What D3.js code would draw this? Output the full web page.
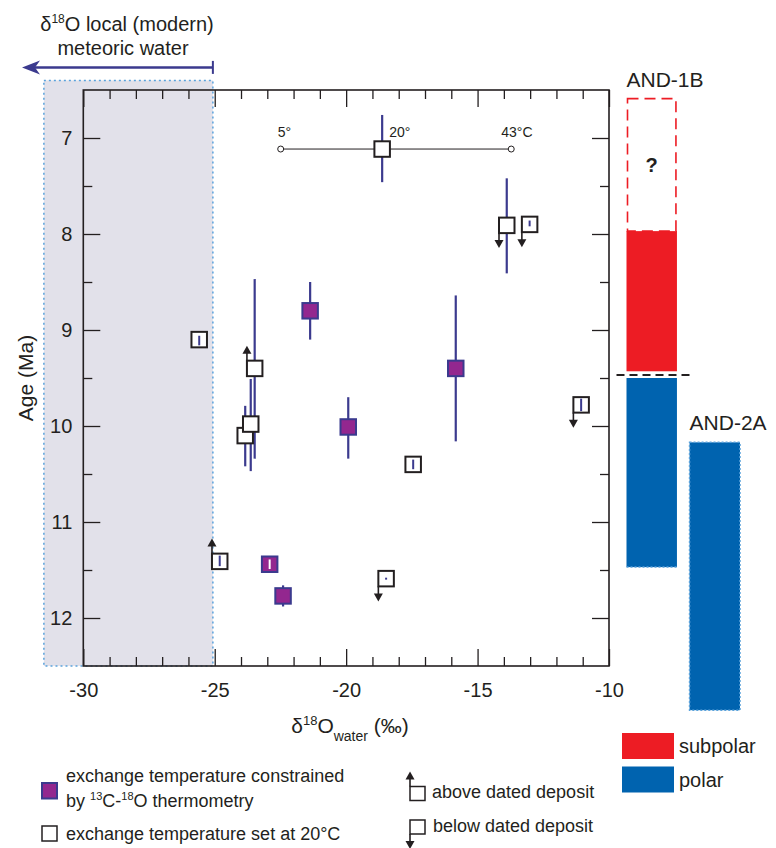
<!DOCTYPE html>
<html>
<head>
<meta charset="utf-8">
<script src="https://cdn.jsdelivr.net/npm/d3@7"></script>
<style>
  body { margin: 0; background: #fff; }
  text { font-family: "Liberation Sans", Arial, sans-serif; fill: #231f20; }
</style>
</head>
<body>
<script>
// samples, in draw order (later ones sit on top)
var d18O   = [-13.89, -13.02, -21.37, -25.59, -23.48, -23.84, -23.63, -19.92, -15.83, -17.45, -11.06, -24.81, -22.91, -22.40, -18.48];
var ages   = [7.91, 7.90, 8.80, 9.10, 9.40, 10.10, 9.98, 10.01, 9.40, 10.40, 9.78, 11.41, 11.44, 11.77, 11.59];
var ageMin = [7.42, 7.86, 8.50, 9.06, 8.47, 9.79, 9.51, 9.70, 8.64, 10.35, 9.70, 11.35, 11.39, 11.66, 11.58];
var ageMax = [8.41, 7.92, 9.10, 9.16, 10.34, 10.42, 10.47, 10.34, 10.16, 10.45, 9.86, 11.46, 11.49, 11.88, 11.59];
var method = ['set', 'set', 'clumped', 'set', 'set', 'set', 'set', 'clumped', 'clumped', 'set', 'set', 'set', 'clumped', 'clumped', 'set'];
var position = ['below', 'below', '', '', 'above', '', '', '', '', '', 'below', 'above', '', '', 'below'];

// temperature scale bar (example sample at 20 C)
var scaleTemps = ['5°', '20°', '43°C'];
var scaleD18O = [-22.49, -18.63, -13.72];
var scaleAge = 7.115, scaleAgeMin = 6.76, scaleAgeMax = 7.46;

// local modern meteoric water range
var meteoric = [-31.5, -25.07];

// drill core climate zones
var cores = ['AND-1B', 'AND-2A'];
var zoneCore = ['AND-1B', 'AND-1B', 'AND-1B', 'AND-2A'];
var zoneType = ['unknown', 'subpolar', 'polar', 'polar'];
var zoneFrom = [6.59, 7.97, 9.50, 10.17];
var zoneTo   = [7.97, 9.43, 11.47, 12.96];
var boundaryAge = 9.47;

var xMajor = [-30, -25, -20, -15, -10],
    xMinor = d3.range(-29, -10).filter(function(d) { return d % 5 !== 0; }),
    yMajor = [7, 8, 9, 10, 11, 12],
    yMinor = [7.5, 8.5, 9.5, 10.5, 11.5];

var ink = '#231f20', navy = '#3b3a8e', purple = '#93278f',
    red = '#ed1c24', blue = '#0063af', dotBlue = '#5aa2dc';

var svg = d3.select('body').append('svg')
    .attr('width', 776)
    .attr('height', 848);

var x = d3.scaleLinear().domain([-30, -10]).range([83.3, 609]),
    y = d3.scaleLinear().domain([6.5, 12.5]).range([90, 666]);

// meteoric water shade
var shadeTop = y(6.4);
svg.append('rect')
    .attr('x', x(meteoric[0]))
    .attr('y', shadeTop)
    .attr('width', x(meteoric[1]) - x(meteoric[0]))
    .attr('height', y(12.5) - shadeTop)
    .attr('fill', '#e2e1ea')
    .attr('stroke', dotBlue)
    .attr('stroke-width', 1.5)
    .attr('stroke-dasharray', '2,3');

var ay = shadeTop - 13;
svg.append('line')
    .attr('x1', x(meteoric[1])).attr('x2', 34)
    .attr('y1', ay).attr('y2', ay)
    .attr('stroke', navy).attr('stroke-width', 2.5);
svg.append('line')
    .attr('x1', x(meteoric[1])).attr('x2', x(meteoric[1]))
    .attr('y1', ay - 6.5).attr('y2', ay + 6.5)
    .attr('stroke', navy).attr('stroke-width', 2);
svg.append('path')
    .attr('d', 'M22,' + ay + 'L40,' + (ay - 7) + 'L35,' + ay + 'L40,' + (ay + 7) + 'Z')
    .attr('fill', navy);

var topLabel = svg.append('text')
    .attr('x', 127).attr('y', 31)
    .attr('text-anchor', 'middle')
    .attr('font-size', 20);
topLabel.append('tspan').text('δ');
topLabel.append('tspan').attr('font-size', 12).attr('dy', -8).text('18');
topLabel.append('tspan').attr('dy', 8).text('O local (modern)');
svg.append('text')
    .attr('x', 123).attr('y', 55)
    .attr('text-anchor', 'middle')
    .attr('font-size', 20)
    .text('meteoric water');

// axes: ticks point inward on all four sides
function styleAxis(g) {
    g.select('.domain').remove();
    g.selectAll('line').attr('stroke', ink).attr('stroke-width', 1.3);
    g.selectAll('text').attr('font-size', 20).attr('fill', ink)
        .attr('font-family', '"Liberation Sans", Arial, sans-serif');
}

svg.append('g').attr('transform', 'translate(0,666)')
    .call(d3.axisBottom(x).tickValues(xMajor).tickSize(-17).tickPadding(17).tickFormat(function(d) { return String(d); }))
    .call(styleAxis);
svg.append('g').attr('transform', 'translate(0,666)')
    .call(d3.axisBottom(x).tickValues(xMinor).tickSize(-9).tickFormat(''))
    .call(styleAxis);
svg.append('g').attr('transform', 'translate(0,90)')
    .call(d3.axisTop(x).tickValues(xMajor).tickSize(-17).tickFormat(''))
    .call(styleAxis);
svg.append('g').attr('transform', 'translate(0,90)')
    .call(d3.axisTop(x).tickValues(xMinor).tickSize(-9).tickFormat(''))
    .call(styleAxis);

svg.append('g').attr('transform', 'translate(83.3,0)')
    .call(d3.axisLeft(y).tickValues(yMajor).tickSize(-17).tickPadding(11).tickFormat(function(d) { return String(d); }))
    .call(styleAxis);
svg.append('g').attr('transform', 'translate(83.3,0)')
    .call(d3.axisLeft(y).tickValues(yMinor).tickSize(-9).tickFormat(''))
    .call(styleAxis);
svg.append('g').attr('transform', 'translate(609,0)')
    .call(d3.axisRight(y).tickValues(yMajor).tickSize(-17).tickFormat(''))
    .call(styleAxis);
svg.append('g').attr('transform', 'translate(609,0)')
    .call(d3.axisRight(y).tickValues(yMinor).tickSize(-9).tickFormat(''))
    .call(styleAxis);

svg.append('rect')
    .attr('x', 83.3).attr('y', 90)
    .attr('width', 609 - 83.3).attr('height', 576)
    .attr('fill', 'none')
    .attr('stroke', ink).attr('stroke-width', 1.6);

// axis titles
svg.append('text')
    .attr('transform', 'translate(33,378) rotate(-90)')
    .attr('text-anchor', 'middle')
    .attr('font-size', 21)
    .text('Age (Ma)');

var xt = svg.append('text')
    .attr('x', 350).attr('y', 733)
    .attr('text-anchor', 'middle')
    .attr('font-size', 21);
xt.append('tspan').text('δ');
xt.append('tspan').attr('font-size', 13).attr('dy', -8).text('18');
xt.append('tspan').attr('dy', 8).text('O');
xt.append('tspan').attr('font-size', 14).attr('dy', 8).text('water');
xt.append('tspan').attr('dy', -8).text(' (‰)');

// temperature scale bar
var sy = y(scaleAge);
svg.append('line')
    .attr('x1', x(scaleD18O[0])).attr('x2', x(scaleD18O[2]))
    .attr('y1', sy).attr('y2', sy)
    .attr('stroke', ink).attr('stroke-width', 1);
svg.append('line')
    .attr('x1', x(scaleD18O[1])).attr('x2', x(scaleD18O[1]))
    .attr('y1', y(scaleAgeMin)).attr('y2', y(scaleAgeMax))
    .attr('stroke', navy).attr('stroke-width', 2.2);
[0, 2].forEach(function(i) {
    svg.append('circle')
        .attr('cx', x(scaleD18O[i])).attr('cy', sy).attr('r', 3)
        .attr('fill', '#fff').attr('stroke', ink).attr('stroke-width', 1);
});
svg.append('rect')
    .attr('x', x(scaleD18O[1]) - 7.75).attr('y', sy - 7.75)
    .attr('width', 15.5).attr('height', 15.5)
    .attr('fill', '#fff').attr('stroke', ink).attr('stroke-width', 2);
var scaleDx = [-3, 7, -10];
scaleTemps.forEach(function(t, i) {
    svg.append('text')
        .attr('x', x(scaleD18O[i]) + scaleDx[i]).attr('y', sy - 12)
        .attr('font-size', 14)
        .text(t);
});

// samples
var half = 7.75;
var pts = d18O.map(function(v, i) {
    var cy = y(ages[i]), lo = y(ageMin[i]), hi = y(ageMax[i]);
    return { cx: x(v), cy: cy, lo: lo, hi: hi, m: method[i], pos: position[i],
             inside: lo >= cy - half - 0.5 && hi <= cy + half + 0.5 };
});

svg.append('g').selectAll('line')
    .data(pts.filter(function(p) { return !p.inside; }))
    .enter().append('line')
    .attr('x1', function(p) { return p.cx; })
    .attr('x2', function(p) { return p.cx; })
    .attr('y1', function(p) { return p.lo; })
    .attr('y2', function(p) { return p.hi; })
    .attr('stroke', navy).attr('stroke-width', 2.2);

function boundArrow(g, lx, yStart, dir) {
    var tip = yStart + dir * 15;
    g.append('line')
        .attr('x1', lx).attr('x2', lx)
        .attr('y1', yStart).attr('y2', tip - dir * 5)
        .attr('stroke', ink).attr('stroke-width', 1.6);
    g.append('path')
        .attr('d', 'M' + lx + ',' + tip + 'L' + (lx - 4.5) + ',' + (tip - dir * 8) +
                   'L' + (lx + 4.5) + ',' + (tip - dir * 8) + 'Z')
        .attr('fill', ink);
}

var marks = svg.append('g');
pts.forEach(function(p) {
    if (p.pos === 'above') boundArrow(marks, p.cx - half, p.cy - half, -1);
    if (p.pos === 'below') boundArrow(marks, p.cx - half, p.cy + half, 1);
    marks.append('rect')
        .attr('x', p.cx - half).attr('y', p.cy - half)
        .attr('width', half * 2).attr('height', half * 2)
        .attr('fill', p.m === 'clumped' ? purple : '#fff')
        .attr('stroke', p.m === 'clumped' ? navy : ink)
        .attr('stroke-width', 2);
    if (p.inside) {
        marks.append('line')
            .attr('x1', p.cx).attr('x2', p.cx)
            .attr('y1', Math.max(p.lo, p.cy - half + 1.5))
            .attr('y2', Math.min(p.hi, p.cy + half - 1.5) + (p.hi - p.lo < 1 ? 1 : 0))
            .attr('stroke', p.m === 'clumped' ? '#fff' : navy)
            .attr('stroke-width', 2);
    }
});

// drill core columns
var core = d3.scaleBand().domain(cores).range([626.5, 740]).paddingInner(0.2);
var zoneFill = { subpolar: red, polar: blue };

zoneType.forEach(function(t, i) {
    var x0 = core(zoneCore[i]), w = core.bandwidth(),
        y0 = y(zoneFrom[i]), y1 = y(zoneTo[i]);
    if (t === 'unknown') {
        svg.append('rect')
            .attr('x', x0 + 1).attr('y', y0)
            .attr('width', w - 2).attr('height', y1 - y0)
            .attr('fill', 'none')
            .attr('stroke', red).attr('stroke-width', 1.6)
            .attr('stroke-dasharray', '11,6');
        svg.append('text')
            .attr('x', x0 + w / 2).attr('y', (y0 + y1) / 2 + 7)
            .attr('text-anchor', 'middle')
            .attr('font-size', 20).attr('font-weight', 'bold')
            .text('?');
        return;
    }
    svg.append('rect')
        .attr('x', x0).attr('y', y0)
        .attr('width', w).attr('height', y1 - y0)
        .attr('fill', zoneFill[t]);
    if (t === 'polar') {
        var edge = svg.append('g').attr('fill', 'none')
            .attr('stroke', dotBlue).attr('stroke-width', 1.5)
            .attr('stroke-dasharray', '2,2');
        if (zoneCore[i] === 'AND-2A') {
            edge.append('rect').attr('x', x0).attr('y', y0)
                .attr('width', w).attr('height', y1 - y0);
        } else {
            edge.append('line').attr('x1', x0).attr('x2', x0 + w)
                .attr('y1', y1).attr('y2', y1);
        }
    }
});

svg.append('line')
    .attr('x1', core('AND-1B') - 10).attr('x2', core('AND-2A') + 1)
    .attr('y1', y(boundaryAge)).attr('y2', y(boundaryAge))
    .attr('stroke', ink).attr('stroke-width', 2)
    .attr('stroke-dasharray', '8,5');

cores.forEach(function(c) {
    var i = zoneCore.indexOf(c);
    svg.append('text')
        .attr('x', core(c)).attr('y', y(zoneFrom[i]) - 12)
        .attr('font-size', 21)
        .text(c);
});

// legends
var zoneLegend = ['subpolar', 'polar'];
zoneLegend.forEach(function(t, i) {
    var ly = 733 + i * 33.5;
    svg.append('rect')
        .attr('x', 622).attr('y', ly)
        .attr('width', 52).attr('height', 26)
        .attr('fill', zoneFill[t]);
    svg.append('text')
        .attr('x', 679).attr('y', ly + 20)
        .attr('font-size', 20)
        .text(t);
});

svg.append('rect')
    .attr('x', 42).attr('y', 783)
    .attr('width', 15).attr('height', 15.5)
    .attr('fill', purple).attr('stroke', navy).attr('stroke-width', 2);
svg.append('text').attr('x', 66).attr('y', 782).attr('font-size', 18)
    .text('exchange temperature constrained');
var l2 = svg.append('text').attr('x', 66).attr('y', 807).attr('font-size', 18);
l2.append('tspan').text('by ');
l2.append('tspan').attr('font-size', 11).attr('dy', -7).text('13');
l2.append('tspan').attr('dy', 7).text('C-');
l2.append('tspan').attr('font-size', 11).attr('dy', -7).text('18');
l2.append('tspan').attr('dy', 7).text('O thermometry');

svg.append('rect')
    .attr('x', 42).attr('y', 826)
    .attr('width', 15).attr('height', 15)
    .attr('fill', '#fff').attr('stroke', ink).attr('stroke-width', 1.5);
svg.append('text').attr('x', 66).attr('y', 840).attr('font-size', 18)
    .text('exchange temperature set at 20°C');

var bl = svg.append('g');
bl.append('rect').attr('x', 410).attr('y', 786.5).attr('width', 15).attr('height', 14)
    .attr('fill', '#fff').attr('stroke', ink).attr('stroke-width', 1.5);
boundArrow(bl, 410, 786.5, -1);
bl.append('rect').attr('x', 410).attr('y', 820).attr('width', 15).attr('height', 14)
    .attr('fill', '#fff').attr('stroke', ink).attr('stroke-width', 1.5);
boundArrow(bl, 410, 834, 1);
svg.append('text').attr('x', 432).attr('y', 798).attr('font-size', 18).text('above dated deposit');
svg.append('text').attr('x', 433).attr('y', 832).attr('font-size', 18).text('below dated deposit');
</script>
</body>
</html>
